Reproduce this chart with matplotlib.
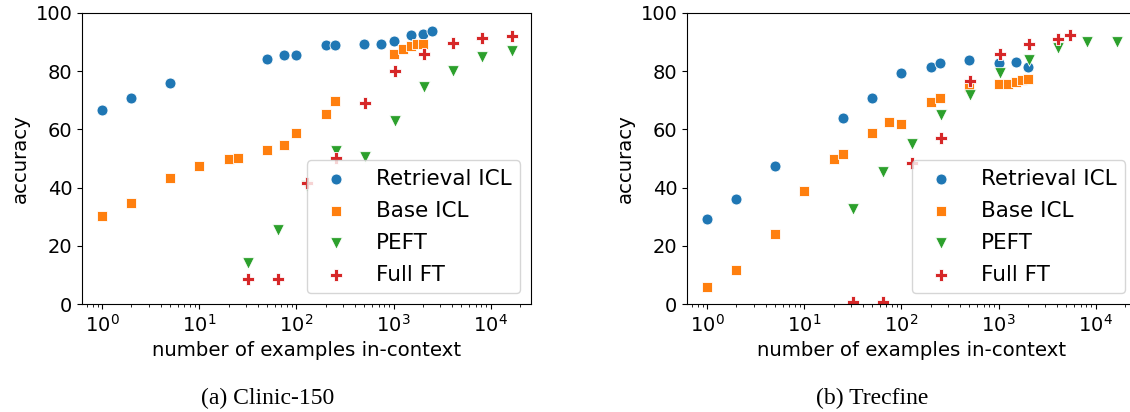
import matplotlib
matplotlib.use("Agg")
import matplotlib.pyplot as plt

# ---------------- data ----------------
series_names = ["Retrieval ICL", "Base ICL", "PEFT", "Full FT"]

# Clinic-150
clinic_ret_x = [1, 2, 5, 50, 75, 100, 200, 250, 500, 750, 1000, 1500, 2000, 2500]
clinic_ret_y = [66.6, 70.7, 76.0, 84.3, 85.6, 85.7, 88.9, 88.9, 89.2, 89.2, 90.3, 92.4, 92.9, 93.8]
clinic_base_x = [1, 2, 5, 10, 20, 25, 50, 75, 100, 200, 250, 1000, 1250, 1500, 1750, 2000]
clinic_base_y = [30.3, 34.7, 43.2, 47.4, 49.8, 50.1, 52.9, 54.8, 58.7, 65.4, 69.8, 86.0, 87.6, 88.7, 89.4, 89.4]
clinic_peft_x = [32, 64, 128, 256, 512, 1024, 2048, 4096, 8192, 16384]
clinic_peft_y = [14.0, 25.4, 40.4, 52.6, 50.6, 62.9, 74.7, 80.1, 85.0, 87.1]
clinic_full_x = [32, 64, 128, 256, 512, 1024, 2048, 4096, 8192, 16384]
clinic_full_y = [8.5, 8.5, 41.5, 50.3, 69.0, 80.0, 86.0, 89.8, 91.5, 92.2]

# Trecfine
trec_ret_x = [1, 2, 5, 25, 50, 100, 200, 250, 500, 1000, 1500, 2000]
trec_ret_y = [29.2, 36.0, 47.3, 64.0, 70.7, 79.3, 81.6, 82.8, 84.0, 82.7, 83.1, 81.4]
trec_base_x = [1, 2, 5, 10, 20, 25, 50, 75, 100, 200, 250, 500, 1000, 1250, 1500, 1750, 2000]
trec_base_y = [5.8, 11.6, 23.9, 38.8, 49.7, 51.7, 58.8, 62.6, 62.0, 69.3, 70.8, 74.4, 75.7, 75.7, 76.2, 76.9, 77.2]
trec_peft_x = [32, 64, 128, 256, 512, 1024, 2048, 4096, 8192, 16384]
trec_peft_y = [32.5, 45.4, 55.1, 65.1, 71.7, 79.5, 83.8, 87.9, 89.9, 90.0]
trec_full_x = [32, 64, 128, 256, 512, 1024, 2048, 4096, 5500]
trec_full_y = [0.8, 0.8, 48.6, 57.1, 76.5, 86.0, 89.4, 91.0, 92.3]

captions = ["(a) Clinic-150", "(b) Trecfine"]
xlabel = "number of examples in-context"
ylabel = "accuracy"
yticks = [0, 20, 40, 60, 80, 100]

# ---------------- style ----------------
colors = ["#1f77b4", "#ff7f0e", "#2ca02c", "#d62728"]
markers = ["o", "s", "v", "P"]
sizes = [62, 62, 70, 80]

W, H = 1130, 412
fig = plt.figure(figsize=(W / 100, H / 100), dpi=100)

panels = [
    [(clinic_ret_x, clinic_ret_y), (clinic_base_x, clinic_base_y),
     (clinic_peft_x, clinic_peft_y), (clinic_full_x, clinic_full_y)],
    [(trec_ret_x, trec_ret_y), (trec_base_x, trec_base_y),
     (trec_peft_x, trec_peft_y), (trec_full_x, trec_full_y)],
]
ax_lefts = [82, 687]
cap_x = [268, 872]
ax_w = 449
ax_top, ax_bot = 13, 304

for i, data in enumerate(panels):
    ax = fig.add_axes([ax_lefts[i] / W, (H - ax_bot) / H, ax_w / W, (ax_bot - ax_top) / H])
    for (xs, ys), name, c, m, s in zip(data, series_names, colors, markers, sizes):
        ax.scatter(xs, ys, s=s, c=c, marker=m, edgecolors="white",
                   linewidths=0.6, label=name, zorder=2)
    ax.set_xscale("log")
    ax.set_xlim(0.62, 26000)
    ax.set_ylim(0, 100)
    ax.set_yticks(yticks)
    ax.tick_params(axis="both", labelsize=14)
    ax.set_xlabel(xlabel, fontsize=14.2)
    ax.set_ylabel(ylabel, fontsize=14.2)
    ax.legend(loc="lower right", fontsize=15.5, handlelength=1.9,
              handletextpad=0.9, borderpad=0.4, labelspacing=0.55,
              scatterpoints=1)
    fig.text(cap_x[i] / W, 1 - 398 / H, captions[i], ha="center", va="center",
             fontsize=17, family="Liberation Serif")

fig.savefig("out.png", dpi=100)
